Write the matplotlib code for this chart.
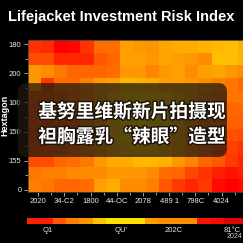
import numpy as np
import matplotlib.pyplot as plt
from matplotlib.colors import LinearSegmentedColormap, Normalize
from matplotlib.patches import FancyBboxPatch
import matplotlib.patheffects as pe

# heatmap values (risk score, 0..100), top row first, 17 columns
risk_rows = [
    [20, 17, 0, 2, 20, 43, 43, 63, 60, 58, 65, 67, 67, 70, 73, 75, 67],
    [30, 30, 15, 15, 15, 35, 40, 63, 63, 60, 65, 62, 60, 55, 75, 75, 70],
    [60, 55, 48, 40, 40, 40, 43, 60, 60, 52, 60, 63, 55, 63, 65, 60, 55],
    [60, 22, 43, 43, 50, 60, 63, 72, 70, 68, 63, 63, 60, 55, 50, 47, 40],
    [35, 30, 35, 40, 50, 60, 75, 80, 82, 80, 78, 70, 60, 50, 45, 45, 45],
    [30, 28, 32, 38, 48, 62, 80, 85, 85, 82, 80, 72, 60, 48, 40, 40, 40],
    [28, 25, 30, 36, 45, 60, 78, 85, 88, 84, 78, 70, 55, 45, 38, 38, 38],
    [25, 25, 28, 35, 45, 58, 75, 82, 85, 80, 75, 65, 52, 42, 35, 32, 30],
    [28, 30, 32, 38, 48, 58, 70, 78, 80, 78, 72, 62, 50, 40, 32, 25, 20],
    [30, 30, 40, 43, 47, 60, 67, 67, 72, 72, 70, 60, 52, 40, 35, 23, 15],
    [47, 50, 50, 55, 55, 55, 60, 60, 60, 55, 43, 40, 27, 20, 12, 8, 12],
    [50, 47, 40, 40, 43, 63, 67, 55, 55, 50, 35, 23, 15, 23, 4, 0, 4],
]
legend_strip = [12, 12, 35, 50, 58, 78, 88, 88, 88, 62, 56, 56, 56, 8, 3, -6, -6]

x_labels = ['2020', '34-C2', '1800', '44-OC', '2078', '489 1', '798C', '4024']
y_labels = ['0', '155', '150', '100', '200', '180']
strip_labels = ['Q1', "QU'", '202C', '81°C']

title = 'Lifejacket Investment Risk Index'
y_title = 'Hextagon'
overlay_lines = ['基努里维斯新片拍摄现', '袒胸露乳“辣眼”造型']

plt.rcParams['font.family'] = ['Liberation Sans', 'DejaVu Sans']

cmap = LinearSegmentedColormap.from_list(
    'risk', [(0.0, '#c40a00'), (10 / 110, '#ff0000'), (1.0, '#ffff00')])
norm = Normalize(vmin=-10, vmax=100)

fig = plt.figure(figsize=(2.43, 2.43), dpi=100, facecolor='black')

# main heatmap (runs off the right edge, like the source crop)
ax = fig.add_axes([0.114, 0.211, 0.9165, 0.6255])
ax.set_facecolor('black')
data = np.array(risk_rows, dtype=float)
ax.imshow(data, cmap=cmap, norm=norm, aspect='auto', interpolation='nearest',
          extent=(-0.5, data.shape[1] - 0.5, 0, data.shape[0]))

ax.set_xticks([0.3 + 2 * k for k in range(len(x_labels))])
ax.set_xticklabels(x_labels)
ax.set_xticks([1.3 + 2 * k for k in range(len(x_labels))], minor=True)
y_pos = [0.15, 2.45, 4.75, 7.05, 9.35, 11.65]
ax.set_yticks(y_pos)
ax.set_yticklabels(y_labels)
ax.set_yticks([(a + b) / 2 for a, b in zip(y_pos[:-1], y_pos[1:])], minor=True)
ax.tick_params(which='both', colors='#bbbbbb', labelcolor='#e6e6e6',
               labelsize=5.5, length=3, width=0.6, pad=1.5)
ax.tick_params(which='minor', length=2)
for s in ax.spines.values():
    s.set_color('#444444')
    s.set_linewidth(0.6)
ax.set_ylabel(y_title, color='white', fontsize=6.5, fontweight='bold')
ax.yaxis.set_label_coords(-0.084, 0.5)

# discrete legend strip
cax = fig.add_axes([0.111, 0.077, 0.9165, 0.027])
cax.imshow(np.array([legend_strip], dtype=float), cmap=cmap, norm=norm,
           aspect='auto', interpolation='nearest')
cax.set_yticks([])
cax.set_xticks([1.05, 6.7, 10.7, 15.2])
cax.set_xticklabels(strip_labels)
cax.tick_params(colors='#e6e6e6', labelsize=5.5, length=0, pad=2)
for s in cax.spines.values():
    s.set_visible(False)
fig.text(0.996, 0.025, '2024', color='#cccccc', fontsize=5, ha='right', va='center')

fig.text(0.5, 0.93, title, color='white', fontsize=10.5, fontweight='bold',
         ha='center', va='center')

# caption overlay
box = FancyBboxPatch((0.074, 0.354), 0.86, 0.304, transform=fig.transFigure,
                     boxstyle='round,pad=0,rounding_size=0.035',
                     facecolor=(0.12, 0.1, 0.06), edgecolor='none', alpha=0.75)
fig.add_artist(box)
for i, line in enumerate(overlay_lines):
    fig.text(0.543, 0.539 - i * 0.103, line, color='white', fontsize=13.5,
             fontweight='bold', ha='center', va='center',
             family=['Noto Sans CJK SC', 'DejaVu Sans'],
             path_effects=[pe.withStroke(linewidth=2, foreground='#1a1208')])

fig.savefig('out.png', facecolor='black')
